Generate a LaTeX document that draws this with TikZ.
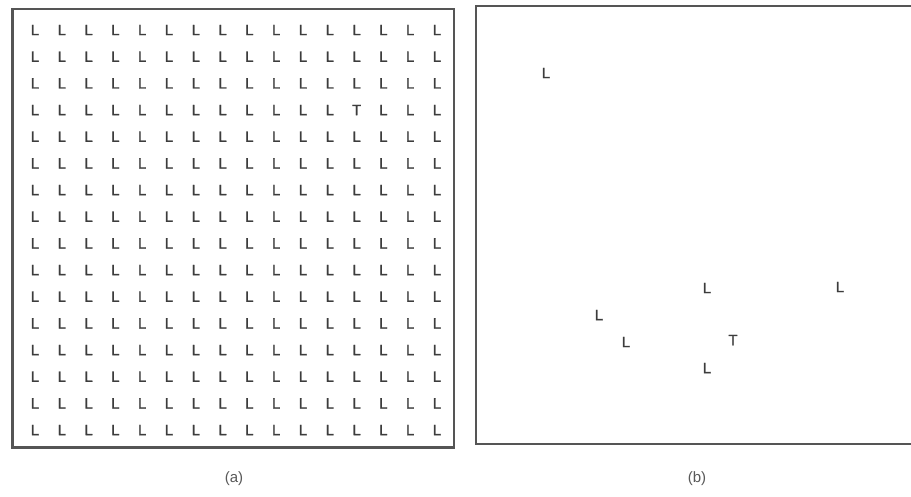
\documentclass[tikz,border=0pt]{standalone}
\usepackage{fontspec}
\setmainfont{Liberation Sans}
\newfontfamily\letterfont[FakeBold=1.2]{Liberation Sans}
\definecolor{ink}{HTML}{3C3C3C}
\definecolor{frame}{HTML}{555555}
\begin{document}
\begin{tikzpicture}[x=1pt,y=-1pt,
  letter/.style={inner sep=0pt,text=ink,font=\letterfont\fontsize{15}{15}\selectfont},
  panel/.style={draw=frame,line width=2.8pt},
  caption/.style={inner sep=0pt,text=ink!85,font=\fontsize{15}{15}\selectfont}]
\useasboundingbox (0,0) rectangle (911,497);
\fill[white] (0,0) rectangle (911,497);
% panel (a)
\draw[panel] (12.5,9) rectangle (454,447.5);
\foreach \i in {0,...,15}{
  \foreach \j in {0,...,15}{
    \pgfmathsetmacro{\xx}{35+26.8*\i}
    \pgfmathsetmacro{\yy}{30+26.67*\j}
    \ifnum\i=12 \ifnum\j=3
      \node[letter] (a-\i-\j) at (\xx,\yy) {T};
    \else
      \node[letter] (a-\i-\j) at (\xx,\yy) {L};
    \fi\else
      \node[letter] (a-\i-\j) at (\xx,\yy) {L};
    \fi
  }
}
% panel (b)
\draw[panel,line width=2.4pt] (476,6) rectangle (920,444);
\node[letter] (b1) at (546,73) {L};
\node[letter] (b2) at (707,288) {L};
\node[letter] (b3) at (840,287) {L};
\node[letter] (b4) at (599,315) {L};
\node[letter] (b5) at (626,342) {L};
\node[letter] (b6) at (733,340) {T};
\node[letter] (b7) at (707,368) {L};
% captions
\node[caption] (capa) at (234,479) {(a)};
\node[caption] (capb) at (697,479) {(b)};
\end{tikzpicture}
\end{document}
